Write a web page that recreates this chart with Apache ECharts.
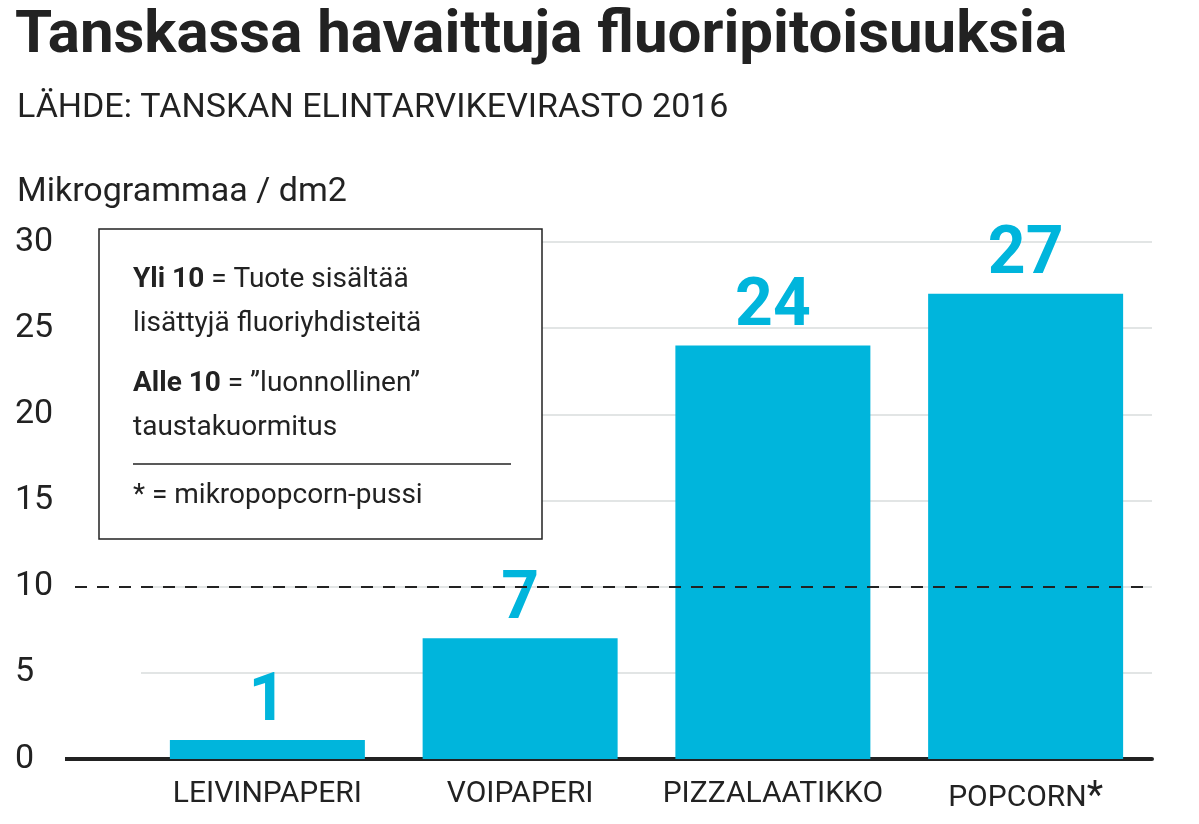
<!DOCTYPE html>
<html><head><meta charset="utf-8">
<script src="https://cdn.jsdelivr.net/npm/echarts@6/dist/echarts.min.js"></script>
<style>html,body{margin:0;background:#fff}#c{width:1199px;height:824px}</style>
</head><body><div id="c"></div>
<script>
var categories = ['LEIVINPAPERI', 'VOIPAPERI', 'PIZZALAATIKKO', 'POPCORN'];
var values = [1.1, 7, 24, 27];
var valueLabels = ['1', '7', '24', '27'];
var yTicks = [0, 5, 10, 15, 20, 25, 30];
var limit = 10;

var chart = echarts.init(document.getElementById('c'));
var F = 'Roboto';
chart.setOption({
  animation: false,
  grid: { left: 141, right: 47, top: 242, bottom: 65 },
  title: [
    { text: 'Tanskassa havaittuja fluoripitoisuuksia', left: 10, top: 2,
      textStyle: { fontFamily: F, fontSize: 60, fontWeight: 'bold', color: '#222' } },
    { text: 'LÄHDE: TANSKAN ELINTARVIKEVIRASTO 2016', left: 12, top: 86,
      textStyle: { fontFamily: F, fontSize: 34, fontWeight: 'normal', color: '#222' } },
    { text: 'Mikrogrammaa / dm2', left: 12, top: 170,
      textStyle: { fontFamily: F, fontSize: 34, fontWeight: 'normal', color: '#222' } }
  ],
  xAxis: {
    type: 'category', data: categories,
    axisTick: { show: false },
    axisLine: { lineStyle: { color: '#222', width: 4 } },
    axisLabel: { interval: 0, fontFamily: F, fontSize: 30, color: '#222', margin: 20,
      formatter: function (v) { return v === 'POPCORN' ? v + '{s|*}' : v; },
      rich: { s: { fontFamily: F, fontSize: 38, color: '#222', verticalAlign: 'top' } } }
  },
  yAxis: {
    type: 'value', min: 0, max: 30, interval: 5,
    axisLabel: { fontFamily: F, fontSize: 34, color: '#222', align: 'left', margin: 126,
      formatter: function (v) { return yTicks.indexOf(v) >= 0 ? String(v) : ''; } },
    splitLine: { lineStyle: { color: '#d8dcdc', width: 1.5 } }
  },
  series: [{
    type: 'bar', data: values, barWidth: 195,
    itemStyle: { color: '#00b5dc' },
    label: { show: true, position: 'top', distance: 4,
      formatter: function (p) { return valueLabels[p.dataIndex]; },
      fontFamily: F, fontSize: 66, fontWeight: 'bold', color: '#00b5dc' },
    markLine: { silent: true, symbol: 'none', label: { show: false },
      lineStyle: { color: '#222', type: [12, 10], width: 2 },
      data: [{ yAxis: limit }] }
  }],
  graphic: [
    { type: 'line', z: 100, shape: { x1: 65, y1: 759, x2: 142, y2: 759 }, style: { stroke: '#222', lineWidth: 4 } },
    { type: 'line', z: 100, shape: { x1: 75, y1: 587, x2: 142, y2: 587 }, style: { stroke: '#222', lineWidth: 2, lineDash: [12, 10] } },
    { type: 'rect', z: 100, shape: { x: 99, y: 229, width: 443, height: 310 },
      style: { fill: '#fff', stroke: '#222', lineWidth: 1.5 } },
    { type: 'text', z: 101, left: 133, top: 258, style: {
      text: '{b|Yli 10} = Tuote sisältää\nlisättyjä fluoriyhdisteitä\n{g|}\n{b|Alle 10} = ”luonnollinen”\ntaustakuormitus',
      font: '28px Roboto', fill: '#222', lineHeight: 44,
      rich: { b: { fontFamily: F, fontSize: 28, fontWeight: 'bold', fill: '#222', lineHeight: 44 },
              g: { lineHeight: 16 } } } },
    { type: 'line', z: 101, shape: { x1: 133, y1: 464, x2: 511, y2: 464 }, style: { stroke: '#222', lineWidth: 1.5 } },
    { type: 'text', z: 101, left: 133, top: 482, style: { text: '* = mikropopcorn-pussi', font: '28px Roboto', fill: '#222' } }
  ]
});
</script></body></html>
